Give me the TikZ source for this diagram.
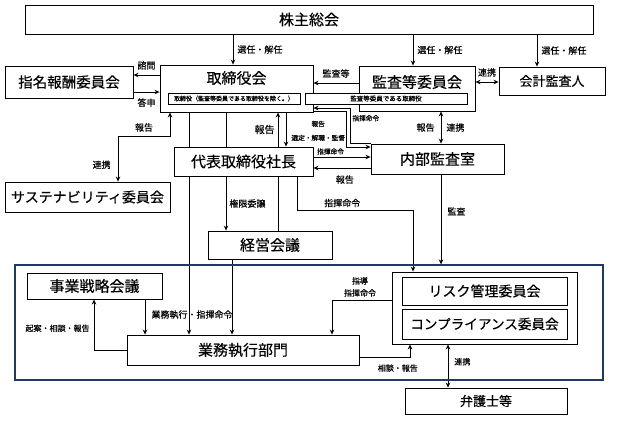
\documentclass[tikz,border=0pt]{standalone}
\usepackage{fontspec}
\setmainfont{Noto Sans CJK JP}[FakeBold=0.3]
\usetikzlibrary{arrows.meta,backgrounds}

\definecolor{frameblue}{RGB}{31,56,100}

\begin{document}
\begin{tikzpicture}[
    x=1pt, y=-1pt,
    >={Stealth[length=5pt,width=4.5pt]},
    rectangle-box/.style={
      rectangle,
      draw,
      fill=white,
      line width=0.9pt,
      inner sep=0pt,
      font=\fontsize{15}{15}\selectfont
    },
    rectangle-inner/.style={
      rectangle,
      draw,
      fill=white,
      line width=0.6pt,
      inner sep=0pt,
      font=\fontsize{6}{6}\selectfont
    },
    rectangle-frame/.style={
      rectangle,
      draw=frameblue,
      line width=1.3pt,
      inner sep=0pt
    },
    connector/.style={
      draw,
      line width=0.8pt
    },
    text-label/.style={
      inner sep=0pt,
      font=\fontsize{9}{9}\selectfont
    },
    text-small/.style={
      inner sep=0pt,
      font=\fontsize{6.7}{14}\selectfont
    },
  ]
  \useasboundingbox (0,0) rectangle (620,424);

  %%%%%%%%%%%%%%%%%%%%%%%%%%%%%%%%%%%%%%%%%%%%%%
  %%%%%%%%%%%%%%%% ACTUAL NODES %%%%%%%%%%%%%%%%
  %%%%%%%%%%%%%%%%%%%%%%%%%%%%%%%%%%%%%%%%%%%%%%
  \node[rectangle-box, minimum width=568pt, minimum height=29pt] (shareholders) at (309,19.5) {株主総会};
  \node[rectangle-box, minimum width=128pt, minimum height=32pt, font=\fontsize{14.5}{14.5}\selectfont] (nomination) at (69,82) {指名報酬委員会};
  \node[rectangle-box, minimum width=153pt, text height=18.7pt, text depth=28.3pt] (board) at (236.5,88.5) {取締役会};
  \node[rectangle-box, minimum width=116pt, text height=21.7pt, text depth=23.3pt] (audit) at (417,88.5) {監査等委員会};
  \node[rectangle-inner, minimum width=132pt, minimum height=11pt] (board-inner) at (234,98.5) {取締役（監査等委員である取締役を除く。）};
  \node[rectangle-inner, minimum width=162pt, minimum height=11pt, font=\fontsize{6.5}{6.5}\selectfont] (audit-inner) at (386,98.5) {監査等委員である取締役};
  \node[rectangle-box, minimum width=106pt, minimum height=28pt, font=\fontsize{13}{13}\selectfont] (auditor) at (552,81) {会計監査人};

  \node[rectangle-box, minimum width=165pt, minimum height=30pt, font=\fontsize{14}{14}\selectfont] (sustainability) at (87.5,197) {サステナビリティ委員会};
  \node[rectangle-box, minimum width=139pt, minimum height=29pt] (president) at (243.5,161.5) {代表取締役社長};
  \node[rectangle-box, minimum width=133pt, minimum height=30pt] (internal-audit) at (437.5,159) {内部監査室};
  \node[rectangle-box, minimum width=124pt, minimum height=28pt] (management) at (270,245) {経営会議};

  \node[rectangle-frame, minimum width=588pt, minimum height=115pt] (frame) at (309,322.5) {};
  \node[rectangle-box, minimum width=135pt, minimum height=26pt] (strategy) at (94.5,286) {事業戦略会議};
  \node[rectangle-box, minimum width=232pt, minimum height=30pt] (execution) at (243,350) {業務執行部門};
  \node[rectangle-box, minimum width=185pt, minimum height=72pt] (risk-group) at (484.5,308) {};
  \node[rectangle-box, minimum width=165pt, minimum height=28pt, font=\fontsize{14}{14}\selectfont] (risk) at (484.5,291) {リスク管理委員会};
  \node[rectangle-box, minimum width=165pt, minimum height=30pt, font=\fontsize{13.6}{13.6}\selectfont] (compliance) at (484.5,324) {コンプライアンス委員会};
  \node[rectangle-box, minimum width=162pt, minimum height=26pt, font=\fontsize{13}{13}\selectfont] (lawyers) at (486,401) {弁護士等};

  %%%%%%%%%%%%%%%%%%%%%%%%%%%%%%%%%%%%%%%%%%%%%%
  %%%%%%%%%%%%%%%% HELPING COORDINATES %%%%%%%%%
  %%%%%%%%%%%%%%%%%%%%%%%%%%%%%%%%%%%%%%%%%%%%%%
  \coordinate (shareholders-board) at (233,50);
  \coordinate (shareholders-audit) at (413,50);
  \coordinate (shareholders-auditor) at (537,50);
  \coordinate (board-nomination) at (146,75);
  \coordinate (nomination-board) at (146,92);
  \coordinate (audit-board) at (336,83);
  \coordinate (audit-auditor) at (487,82);

  \coordinate (sustainability-board-sustainability) at (118,136);
  \coordinate (sustainability-board-board) at (170,136);

  \coordinate (board-execution) at (189,130);
  \coordinate (board-president) at (226,130);
  \coordinate (president-board) at (278,130);
  \coordinate (board-president-select) at (286,130);

  \coordinate (internal-board-board) at (350,108);
  \coordinate (internal-board-internal) at (350,143);
  \coordinate (audit-internal-board) at (346,111);
  \coordinate (audit-internal-internal) at (346,147);
  \coordinate (president-internal) at (340,157);
  \coordinate (internal-president) at (340,168);
  \coordinate (audit-internal) at (441,128);
  \coordinate (internal-frame) at (441,220);

  \coordinate (president-risk-president) at (297,210);
  \coordinate (president-risk-risk) at (413,210);
  \coordinate (strategy-execution) at (145,317);
  \coordinate (management-execution) at (232,300);
  \coordinate (execution-strategy) at (94,350);
  \coordinate (risk-execution) at (332,300);
  \coordinate (execution-risk) at (410,357);
  \coordinate (risk-lawyers) at (448,366);

  %%%%%%%%%%%%%%%%%%%%%%%%%%%%%%%%%%%%%%%%%%%%%%
  %%%%%%%%%%%%%%%%%% PATHS %%%%%%%%%%%%%%%%%%%%%
  %%%%%%%%%%%%%%%%%%%%%%%%%%%%%%%%%%%%%%%%%%%%%%
  \begin{scope}[on background layer]
  \path [->, connector] (shareholders.south -| shareholders-board) -- (board.north -| shareholders-board) node[right=4pt, midway, text-label] {選任・解任};
  \path [->, connector] (shareholders.south -| shareholders-audit) -- (audit.north -| shareholders-audit) node[right=4pt, midway, text-label] {選任・解任};
  \path [->, connector] (shareholders.south -| shareholders-auditor) -- (auditor.north -| shareholders-auditor) node[right=4pt, midway, text-label] {選任・解任};

  \path [->, connector] (board.west |- board-nomination) -- (nomination.east |- board-nomination) node[above=5pt, midway, text-label] {諮問};
  \path [->, connector] (nomination.east |- nomination-board) -- (board.west |- nomination-board) node[below=6pt, midway, text-label] {答申};
  \path [->, connector] (audit.west |- audit-board) -- (board.east |- audit-board) node[above=5pt, midway, text-label] {監査等};
  \path [<->, connector] (audit.east |- audit-auditor) -- (auditor.west |- audit-auditor) node[above=5pt, midway, text-label] {連携};

  \path [<->, connector] (sustainability.north -| sustainability-board-sustainability) -- (sustainability-board-sustainability) node[left=7pt, pos=0.37, text-label] {連携} -- (sustainability-board-board) node[above=4pt, midway, text-label] {報告} -- (board.south -| sustainability-board-board);

  \path [->, connector] (board.south -| board-execution) -- (execution.north -| board-execution) node[pos=0.91, xshift=3pt, text-label] {業務執行・指揮命令};
  \path [connector] (board.south -| board-president) -- (president.north -| board-president);
  \path [->, connector] (president.north -| president-board) -- (board.south -| president-board) node[left=3pt, midway, text-label, font=\fontsize{10}{10}\selectfont] {報告};
  \path [->, connector] (board.south -| board-president-select) -- (president.north -| board-president-select) node[right=5pt, pos=0.54, text-small, align=center] {報告\\選定・解職・監督};

  \path [->, connector] (internal-audit.west |- internal-board-internal) -- (internal-board-internal) -- (internal-board-board) -- (board.east |- internal-board-board);
  \path [->, connector] (board.east |- audit-internal-board) -- (audit-internal-board) -- (audit-internal-internal) node[right=6pt, pos=0.2, text-small] {指揮命令} -- (internal-audit.west |- audit-internal-internal);
  \path [->, connector] (president.east |- president-internal) -- (internal-audit.west |- president-internal) node[above=2pt, pos=0.3, text-small] {指揮命令};
  \path [->, connector] (internal-audit.west |- internal-president) -- (president.east |- internal-president) node[below=7pt, pos=0.45, text-label] {報告};
  \path [<->, connector] (audit.south -| audit-internal) -- (internal-audit.north -| audit-internal) node[left=6pt, midway, text-label] {報告} node[right=5pt, midway, text-label] {連携};
  \path [->, connector] (internal-audit.south -| internal-frame) -- (frame.north -| internal-frame) node[right=6pt, pos=0.41, text-label] {監査};

  \path [->, connector] (president.south -| president-risk-president) -- (president-risk-president) -- (president-risk-risk) node[above=2.5pt, pos=0.39, text-label] {指揮命令} -- (risk-group.north -| president-risk-risk);
  \path [->, connector] (president.south -| board-president) -- (management.north -| board-president) node[right=3pt, midway, text-label] {権限委譲};
  \path [connector] (president.south -| president-board) -- (management.north -| president-board);

  \path [->, connector] (strategy.south -| strategy-execution) -- (execution.north -| strategy-execution);
  \path [->, connector] (management.south -| management-execution) -- (execution.north -| management-execution);
  \path [->, connector] (execution.west |- execution-strategy) -- (execution-strategy) -- (strategy.south -| execution-strategy) node[left=4pt, pos=0.43, text-label, font=\fontsize{8}{8}\selectfont] {起案・相談・報告};
  \path [->, connector] (risk-group.west |- risk-execution) -- (risk-execution) node[above=3pt, pos=0.53, text-label, align=center, font=\fontsize{8}{12}\selectfont] {指導\\指揮命令} -- (execution.north -| risk-execution);
  \path [->, connector] (execution.east |- execution-risk) -- (execution-risk) node[below=7pt, pos=0.76, text-label, font=\fontsize{8}{8}\selectfont] {相談・報告} -- (risk-group.south -| execution-risk);
  \path [<->, connector] (risk-group.south -| risk-lawyers) -- (lawyers.north -| risk-lawyers) node[right=6pt, pos=0.4, text-label, font=\fontsize{8}{8}\selectfont] {連携};
  \end{scope}

\end{tikzpicture}
\end{document}
